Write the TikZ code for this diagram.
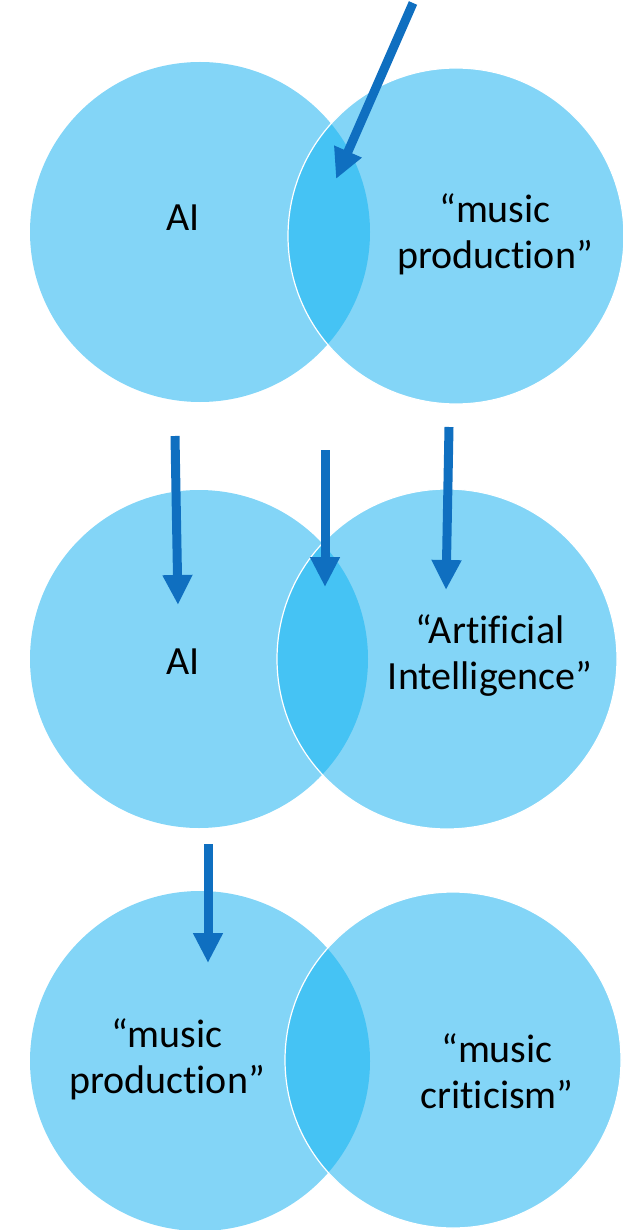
\documentclass[tikz,border=0pt]{standalone}
\usepackage{fontspec}
\setmainfont{Carlito}[Ligatures=NoCommon]
\usetikzlibrary{arrows.meta}

\definecolor{setblue}{HTML}{83D5F7}
\definecolor{lensblue}{HTML}{45C3F4}
\definecolor{arrowblue}{HTML}{0F6FC0}

\begin{document}
\begin{tikzpicture}[
    x=1pt, y=-1pt,
    set/.style={fill=setblue},
    lens/.style={fill=lensblue},
    rim/.style={draw=white, line width=1.2pt},
    word/.style={font=\fontsize{40}{46}\selectfont, align=center, text=black, inner sep=0pt},
    pointer/.style={draw=arrowblue, line width=9pt, -{Triangle[length=30pt, width=28pt]}},
]
\useasboundingbox (0, 0) rectangle (623, 1230);

% Ebene 1: AI und "music production"
\coordinate (l1) at (200, 232);
\coordinate (r1) at (456, 236);
\fill[set] (l1) circle[radius=170];
\fill[set] (r1) circle[radius=168];
\begin{scope}
  \clip (l1) circle[radius=170];
  \fill[lens] (r1) circle[radius=168];
\end{scope}
\draw[rim] (r1) circle[radius=168];
\node[word] (ai1) at (183, 218) {AI};
\node[word] (mp1) at (495, 234) {“music\\production”};

% Ebene 2: AI und "Artificial Intelligence"
\coordinate (l2) at (199, 659);
\coordinate (r2) at (447, 659);
\fill[set] (l2) circle[radius=169];
\fill[set] (r2) circle[radius=170];
\begin{scope}
  \clip (l2) circle[radius=169];
  \fill[lens] (r2) circle[radius=170];
\end{scope}
\draw[rim] (r2) circle[radius=170];
\node[word] (ai2) at (183, 662) {AI};
\node[word] (art2) at (490, 656) {“Artificial\\Intelligence”};

% Ebene 3: "music production" und "music criticism"
\coordinate (l3) at (200, 1061);
\coordinate (r3) at (453, 1060);
\fill[set] (l3) circle[radius=170];
\fill[set] (r3) circle[radius=168];
\begin{scope}
  \clip (l3) circle[radius=170];
  \fill[lens] (r3) circle[radius=168];
\end{scope}
\draw[rim] (r3) circle[radius=168];
\node[word] (mp3) at (167, 1059) {“music\\production”};
\node[word] (mc3) at (497, 1071) {“music\\criticism”};

% Pfeile
\coordinate (p1a) at (413, 3);
\coordinate (p1b) at (336, 179);
\coordinate (p2a) at (175, 436);
\coordinate (p2b) at (178, 605);
\coordinate (p3a) at (325, 450);
\coordinate (p3b) at (325, 587);
\coordinate (p4a) at (449, 427);
\coordinate (p4b) at (446, 590);
\coordinate (p5a) at (208, 844);
\coordinate (p5b) at (208, 963);

\draw[pointer] (p1a) -- (p1b);
\draw[pointer] (p2a) -- (p2b);
\draw[pointer] (p3a) -- (p3b);
\draw[pointer] (p4a) -- (p4b);
\draw[pointer] (p5a) -- (p5b);

\end{tikzpicture}
\end{document}
